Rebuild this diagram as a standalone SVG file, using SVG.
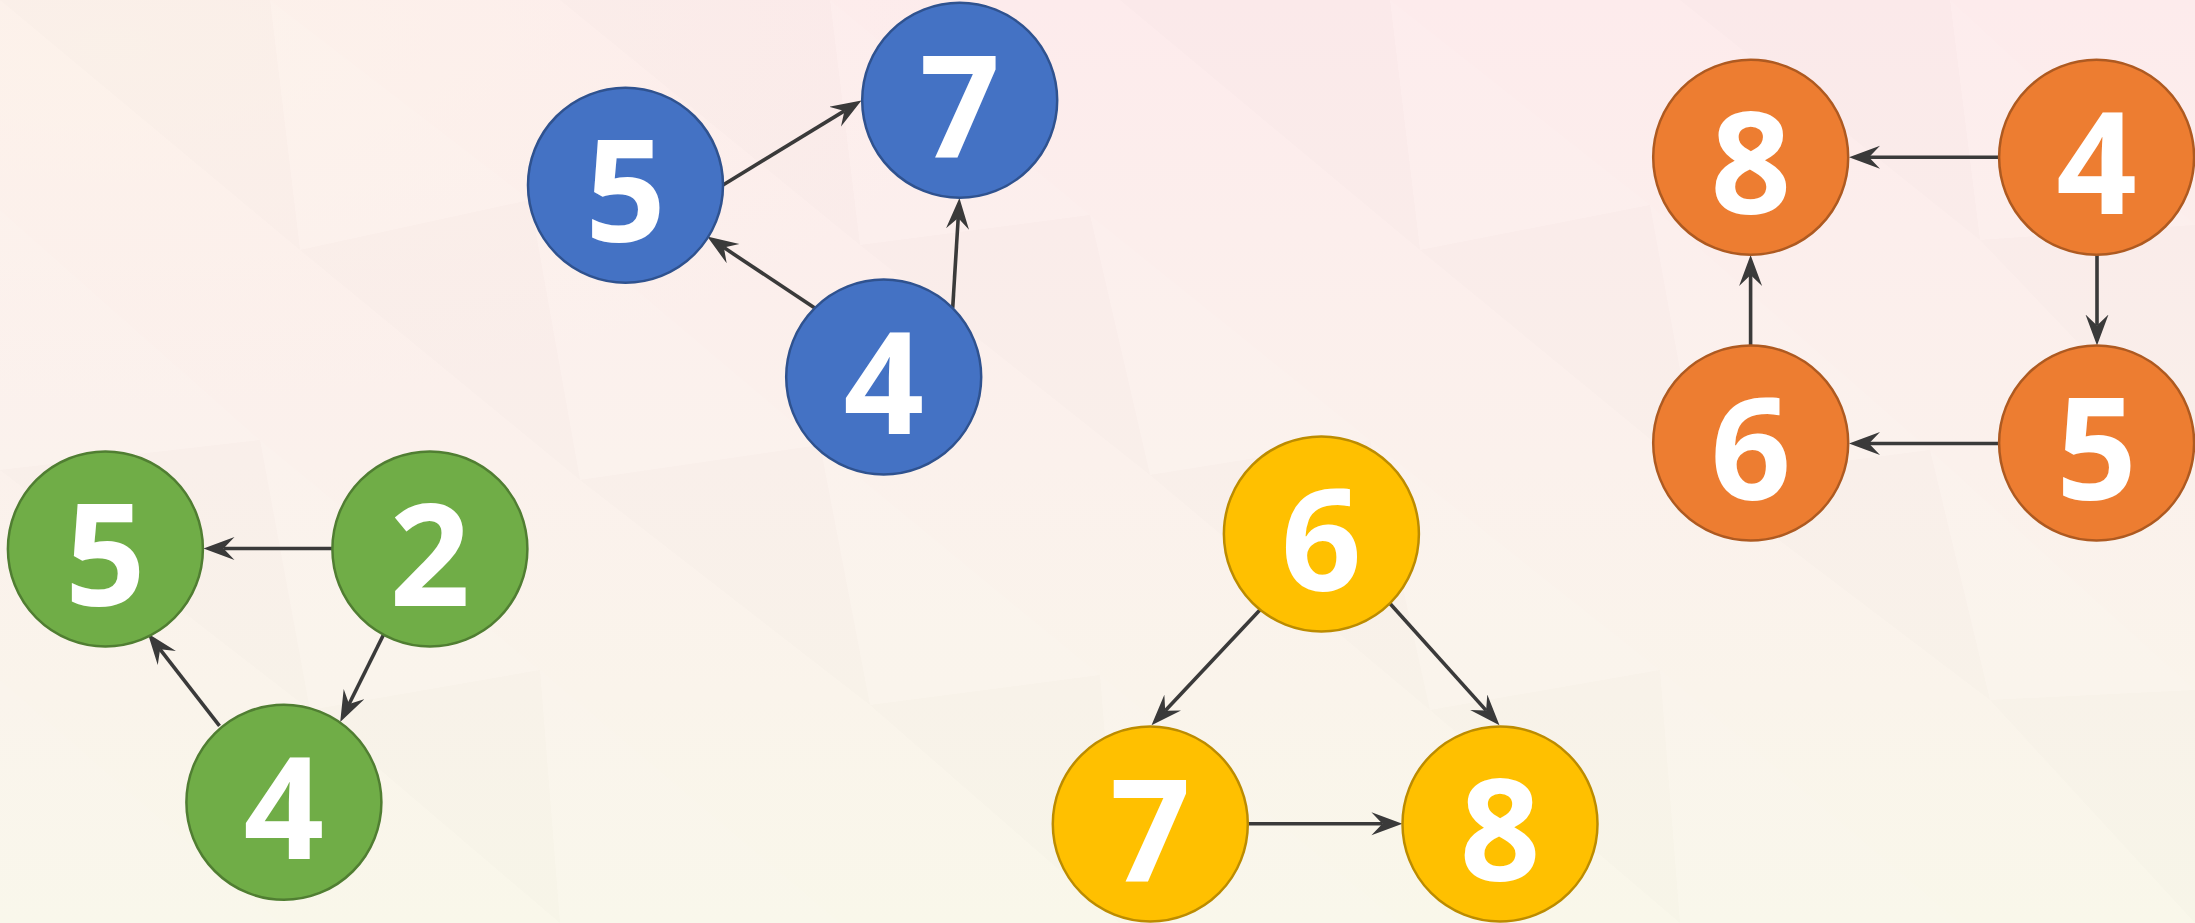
<svg xmlns="http://www.w3.org/2000/svg" width="2195" height="923" viewBox="0 0 2195 923">
<style>
.lbl{font-family:"Open Sans","Noto Sans","Liberation Sans",sans-serif;font-weight:700;font-size:141px;fill:#ffffff;text-anchor:middle}
.edge{stroke:#3a3a3a;stroke-width:3.6;fill:none;marker-end:url(#arr)}
.blue{fill:#4472C4;stroke:#2F528F;stroke-width:2.5}
.orange{fill:#ED7D31;stroke:#AE5A21;stroke-width:2.5}
.green{fill:#70AD47;stroke:#507E32;stroke-width:2.5}
.yellow{fill:#FFC000;stroke:#BC8C00;stroke-width:2.5}
.dk{fill:#7a4040;opacity:0.012}
.lt{fill:#ffffff;opacity:0.08}
</style>
<defs>
<linearGradient id="bg" x1="0" y1="0" x2="0" y2="1">
<stop offset="0" stop-color="#FDEBEC"/>
<stop offset="0.5" stop-color="#FBF1EC"/>
<stop offset="1" stop-color="#F9F7EA"/>
</linearGradient>
<radialGradient id="tl" cx="0.05" cy="0.05" r="0.4">
<stop offset="0" stop-color="#FCF4EA" stop-opacity="0.8"/>
<stop offset="1" stop-color="#FCF4EA" stop-opacity="0"/>
</radialGradient>
<marker id="arr" markerUnits="userSpaceOnUse" markerWidth="34" markerHeight="24" refX="11" refY="11.5" orient="auto">
<path d="M0,0 L31,11.5 L0,23 L11,11.5 Z" fill="#3a3a3a"/>
</marker>
</defs>
<g id="background">
<rect x="0" y="0" width="2195" height="923" fill="url(#bg)"/>
<rect x="0" y="0" width="2195" height="923" fill="url(#tl)"/>
<polygon class="dk" points="0,0 270,0 300,250"/>
<polygon class="lt" points="270,0 300,250 530,200"/>
<polygon class="dk" points="560,0 830,0 860,245"/>
<polygon class="lt" points="830,0 860,245 1090,215"/>
<polygon class="dk" points="1120,0 1390,0 1420,250"/>
<polygon class="lt" points="1390,0 1420,250 1650,205"/>
<polygon class="dk" points="1680,0 1950,0 1980,240"/>
<polygon class="lt" points="1950,0 1980,240 2195,225"/>
<polygon class="lt" points="0,210 0,470 260,440"/>
<polygon class="dk" points="300,250 530,200 580,480"/>
<polygon class="lt" points="530,200 580,480 820,445"/>
<polygon class="dk" points="860,245 1090,215 1150,475"/>
<polygon class="lt" points="1090,215 1150,475 1370,440"/>
<polygon class="dk" points="1420,250 1650,205 1700,480"/>
<polygon class="lt" points="1650,205 1700,480 1930,450"/>
<polygon class="dk" points="1980,240 2195,225 2195,465"/>
<polygon class="dk" points="0,470 260,440 310,710"/>
<polygon class="lt" points="260,440 310,710 540,670"/>
<polygon class="dk" points="580,480 820,445 870,705"/>
<polygon class="lt" points="820,445 870,705 1100,675"/>
<polygon class="dk" points="1150,475 1370,440 1430,710"/>
<polygon class="lt" points="1370,440 1430,710 1660,670"/>
<polygon class="dk" points="1700,480 1930,450 1990,700"/>
<polygon class="lt" points="1930,450 1990,700 2195,690"/>
<polygon class="lt" points="0,680 0,923 280,923"/>
<polygon class="dk" points="310,710 540,670 560,923"/>
<polygon class="lt" points="540,670 560,923 840,923"/>
<polygon class="dk" points="870,705 1100,675 1120,923"/>
<polygon class="lt" points="1100,675 1120,923 1400,923"/>
<polygon class="dk" points="1430,710 1660,670 1680,923"/>
<polygon class="lt" points="1660,670 1680,923 1960,923"/>
<polygon class="dk" points="1990,700 2195,690 2195,923"/>
</g>
<g id="connectors">
<line class="edge" x1="723" y1="185" x2="844.4" y2="110.9"/>
<line class="edge" x1="814.4" y1="307.8" x2="723.9" y2="247.6"/>
<line class="edge" x1="952.7" y1="307.8" x2="958.2" y2="218"/>
<line class="edge" x1="1999" y1="157.3" x2="1869" y2="157.3"/>
<line class="edge" x1="2097" y1="255" x2="2097" y2="325.5"/>
<line class="edge" x1="1999" y1="443.5" x2="1869" y2="443.5"/>
<line class="edge" x1="1750.6" y1="345" x2="1750.6" y2="275"/>
<line class="edge" x1="332" y1="548.5" x2="223.5" y2="548.5"/>
<line class="edge" x1="219.5" y1="725.9" x2="160.1" y2="649.3"/>
<line class="edge" x1="384.6" y1="632.5" x2="349.1" y2="704"/>
<line class="edge" x1="1260.1" y1="609.7" x2="1165.2" y2="710.7"/>
<line class="edge" x1="1390.2" y1="603.8" x2="1486.1" y2="710.4"/>
<line class="edge" x1="1248" y1="823.8" x2="1382.4" y2="823.8"/>
</g>
<g id="blue-5"><circle class="blue" cx="625.5" cy="185.2" r="97.5"/><text class="lbl" x="625.5" y="242.2">5</text></g>
<g id="blue-7"><circle class="blue" cx="959.7" cy="100.3" r="97.5"/><text class="lbl" x="959.7" y="157.3">7</text></g>
<g id="blue-4"><circle class="blue" cx="883.7" cy="377" r="97.5"/><text class="lbl" x="883.7" y="434">4</text></g>
<g id="orange-8"><circle class="orange" cx="1750.7" cy="157.3" r="97.5"/><text class="lbl" x="1750.7" y="214.3">8</text></g>
<g id="orange-4"><circle class="orange" cx="2096.6" cy="157.3" r="97.5"/><text class="lbl" x="2096.6" y="214.3">4</text></g>
<g id="orange-6"><circle class="orange" cx="1750.7" cy="443" r="97.5"/><text class="lbl" x="1750.7" y="500">6</text></g>
<g id="orange-5"><circle class="orange" cx="2096.6" cy="443" r="97.5"/><text class="lbl" x="2096.6" y="500">5</text></g>
<g id="green-5"><circle class="green" cx="105.4" cy="548.9" r="97.5"/><text class="lbl" x="105.4" y="605.9">5</text></g>
<g id="green-2"><circle class="green" cx="429.9" cy="548.9" r="97.5"/><text class="lbl" x="429.9" y="605.9">2</text></g>
<g id="green-4"><circle class="green" cx="283.9" cy="802.3" r="97.5"/><text class="lbl" x="283.9" y="859.3">4</text></g>
<g id="yellow-6"><circle class="yellow" cx="1321.4" cy="533.9" r="97.5"/><text class="lbl" x="1321.4" y="590.9">6</text></g>
<g id="yellow-7"><circle class="yellow" cx="1150.3" cy="824" r="97.5"/><text class="lbl" x="1150.3" y="881">7</text></g>
<g id="yellow-8"><circle class="yellow" cx="1500" cy="824" r="97.5"/><text class="lbl" x="1500" y="881">8</text></g>
</svg>
